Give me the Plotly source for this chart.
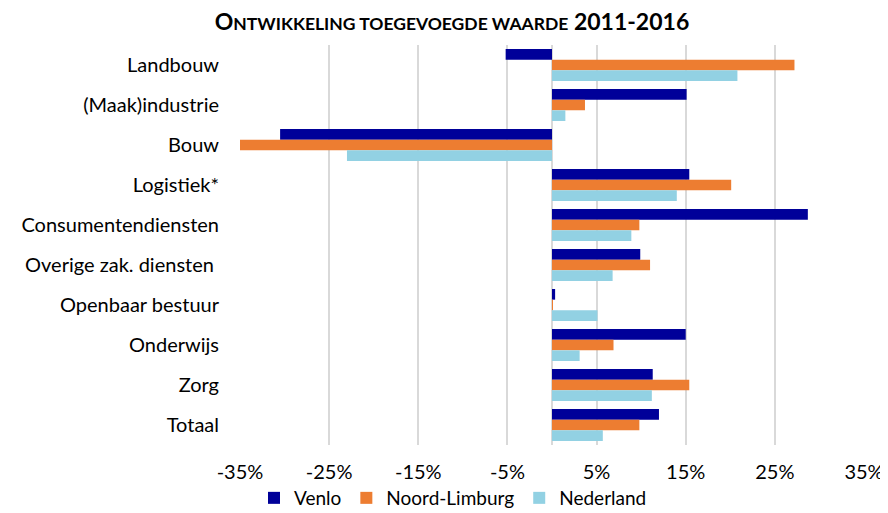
import plotly.graph_objects as go

categories = ["Landbouw", "(Maak)industrie", "Bouw", "Logistiek*", "Consumentendiensten",
              "Overige zak. diensten\u00a0", "Openbaar bestuur", "Onderwijs", "Zorg", "Totaal"]
venlo = [-5.2, 15.1, -30.5, 15.4, 28.7, 9.9, 0.35, 15.0, 11.3, 12.0]
noord_limburg = [27.2, 3.7, -35.0, 20.1, 9.8, 11.0, 0.05, 6.9, 15.4, 9.8]
nederland = [20.8, 1.5, -23.0, 14.0, 8.9, 6.8, 5.1, 3.1, 11.2, 5.7]

tick_vals = [-35, -25, -15, -5, 5, 15, 25, 35]
tick_text = ["-35%", "-25%", "-15%", "-5%", "5%", "15%", "25%", "35%"]

series = [("Venlo", venlo, "#000099"),
          ("Noord-Limburg", noord_limburg, "#ED7D31"),
          ("Nederland", nederland, "#92D1E3")]

FONT = "Lato"
FS = 20

# page body has an 8px margin, so the figure is 880x505 placed at (8, 8)
W, H = 880, 505
L, R, T, B = 232, 24, 37, 68
PW = W - L - R
PH = H - T - B

fig = go.Figure()
for name, vals, col in series:
    fig.add_trace(go.Bar(y=categories, x=vals, name=name, orientation="h",
                         marker=dict(color=col, line=dict(width=0))))

title_text = ("<b>O<span style='font-size:17.5px'>NTWIKKELING TOEGEVOEGDE WAARDE</span> 2011-2016</b>")

fig.update_layout(
    width=W, height=H,
    margin=dict(l=L, r=R, t=T, b=B, autoexpand=False),
    paper_bgcolor="white", plot_bgcolor="white",
    barmode="group", bargap=0.2, bargroupgap=0,
    font=dict(family=FONT, size=FS, color="#000000"),
    title=dict(text=title_text, x=444 / W, xanchor="center", y=1 - 14 / H, yanchor="middle",
               font=dict(family=FONT, size=23, color="#000000")),
    showlegend=True,
    legend=dict(orientation="h", x=(246 - L) / PW, xanchor="left",
                y=-53 / PH, yanchor="middle", traceorder="normal",
                font=dict(family=FONT, size=19, color="#000000"), itemclick=False),
    xaxis=dict(range=[-35, 35], tickvals=tick_vals, ticktext=tick_text,
               showgrid=True, gridcolor="#D9D9D9", gridwidth=1.5,
               zeroline=True, zerolinecolor="#D9D9D9", zerolinewidth=1.5,
               showline=False, ticks="outside", ticklen=9, tickcolor="rgba(0,0,0,0)",
               tickfont=dict(family=FONT, size=FS, color="#000000")),
    yaxis=dict(autorange="reversed", showgrid=False, zeroline=False, showline=False,
               ticks="outside", ticklen=16, tickcolor="rgba(0,0,0,0)",
               tickfont=dict(family=FONT, size=FS, color="#000000")),
)

fig.write_html("out.html")
